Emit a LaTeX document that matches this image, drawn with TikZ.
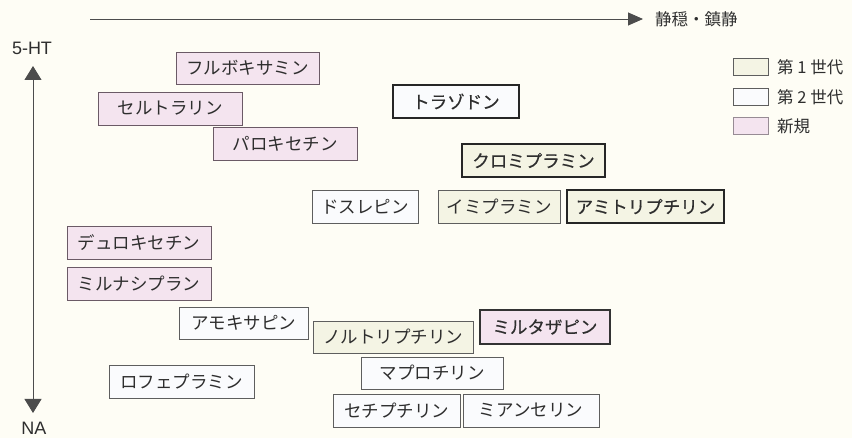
\documentclass[tikz,border=0pt]{standalone}
\usepackage{fontspec}
\usetikzlibrary{arrows.meta}
\newfontfamily\jp{Noto Sans CJK JP}
\newfontfamily\jpb[FakeBold=0.4]{Noto Sans CJK JP}
\newfontfamily\jpl{Noto Sans CJK JP}
\setsansfont{Liberation Sans}
\definecolor{bgc}{HTML}{FEFDF5}
\definecolor{genonef}{HTML}{F4F4E4}
\definecolor{gentwof}{HTML}{FAFBFD}
\definecolor{newf}{HTML}{F4E4EF}
\definecolor{bordc}{HTML}{5E5E5E}
\definecolor{pinkbord}{HTML}{6B5A66}
\definecolor{txtc}{HTML}{2E2E2E}
\tikzset{
  drug/.style={draw=bordc, line width=0.9pt, inner sep=0pt, text=txtc,
    font=\jp\fontsize{17.5}{19}\selectfont},
  genone/.style={drug, fill=genonef},
  gentwo/.style={drug, fill=gentwof},
  newdrug/.style={drug, fill=newf, draw=pinkbord},
  heavy/.style={line width=1.9pt, draw=black!85, font=\jpb\fontsize{17.5}{19}\selectfont},
  axisline/.style={draw=black!70, line width=0.9pt},
  legbox/.style={draw=bordc, line width=0.8pt, minimum width=35pt, minimum height=17pt, inner sep=0pt},
  legtext/.style={anchor=west, inner sep=0pt, text=txtc, font=\jpl\fontsize{16.5}{18}\selectfont},
  axlabel/.style={inner sep=0pt, text=txtc, font=\sffamily\fontsize{18}{20}\selectfont},
}
\begin{document}
\begin{tikzpicture}[x=1pt, y=-1pt]
\fill[bgc] (0,0) rectangle (852,438);
\useasboundingbox (0,0) rectangle (852,438);

% axes
\coordinate (hs) at (90,19);
\coordinate (he) at (643,19);
\draw[axisline, -{Triangle[length=15pt,width=13pt]}] (hs) -- (he);
\node[inner sep=0pt, anchor=west, text=txtc, font=\jpl\fontsize{16.5}{18}\selectfont] (sed) at (655,19) {静穏・鎮静};

\coordinate (vt) at (33,66);
\coordinate (vb) at (33,413);
\draw[axisline, {Triangle[length=14pt,width=17pt]}-{Triangle[length=14pt,width=17pt]}] (vt) -- (vb);
\node[axlabel] (ht) at (32,48) {5-HT};
\node[axlabel] (na) at (34,428.5) {NA};

% drugs
\node[newdrug, minimum width=143pt, minimum height=32pt] (d1) at (247.5,68) {フルボキサミン};
\node[newdrug, minimum width=144pt, minimum height=33pt] (d2) at (170,108.5) {セルトラリン};
\node[newdrug, minimum width=144pt, minimum height=33pt] (d3) at (285,143.5) {パロキセチン};
\node[gentwo, heavy, minimum width=126pt, minimum height=33pt] (d4) at (456,101.5) {トラゾドン};
\node[genone, heavy, minimum width=143pt, minimum height=33pt] (d5) at (533.5,160.5) {クロミプラミン};
\node[gentwo, minimum width=106pt, minimum height=33pt] (d6) at (365,206.5) {ドスレピン};
\node[genone, minimum width=122pt, minimum height=33pt] (d7) at (499,206.5) {イミプラミン};
\node[genone, heavy, minimum width=157pt, minimum height=33pt] (d8) at (645.5,206.5) {アミトリプチリン};
\node[newdrug, minimum width=144pt, minimum height=33pt] (d9) at (139,242.5) {デュロキセチン};
\node[newdrug, minimum width=144pt, minimum height=33pt] (d10) at (139,283.5) {ミルナシプラン};
\node[gentwo, minimum width=129pt, minimum height=32pt] (d11) at (243.5,323) {アモキサピン};
\node[genone, minimum width=160pt, minimum height=32pt] (d12) at (393,337) {ノルトリプチリン};
\node[newdrug, heavy, draw=black!80, minimum width=130pt, minimum height=34pt] (d13) at (545,327) {ミルタザピン};
\node[gentwo, minimum width=145pt, minimum height=33pt] (d14) at (181.5,381.5) {ロフェプラミン};
\node[gentwo, minimum width=142pt, minimum height=32pt] (d15) at (432,373) {マプロチリン};
\node[gentwo, minimum width=127pt, minimum height=33pt] (d16) at (396.5,410.5) {セチプチリン};
\node[gentwo, minimum width=136pt, minimum height=33pt] (d17) at (531,410.5) {ミアンセリン};

% legend
\node[legbox, fill=genonef] (l1) at (750.5,67) {};
\node[legbox, fill=gentwof] (l2) at (750.5,97) {};
\node[legbox, fill=newf, draw=pinkbord!70] (l3) at (750.5,126) {};
\node[legtext] (t1) at (777,67) {第 1 世代};
\node[legtext] (t2) at (777,97) {第 2 世代};
\node[legtext] (t3) at (777,126) {新規};
\end{tikzpicture}
\end{document}
